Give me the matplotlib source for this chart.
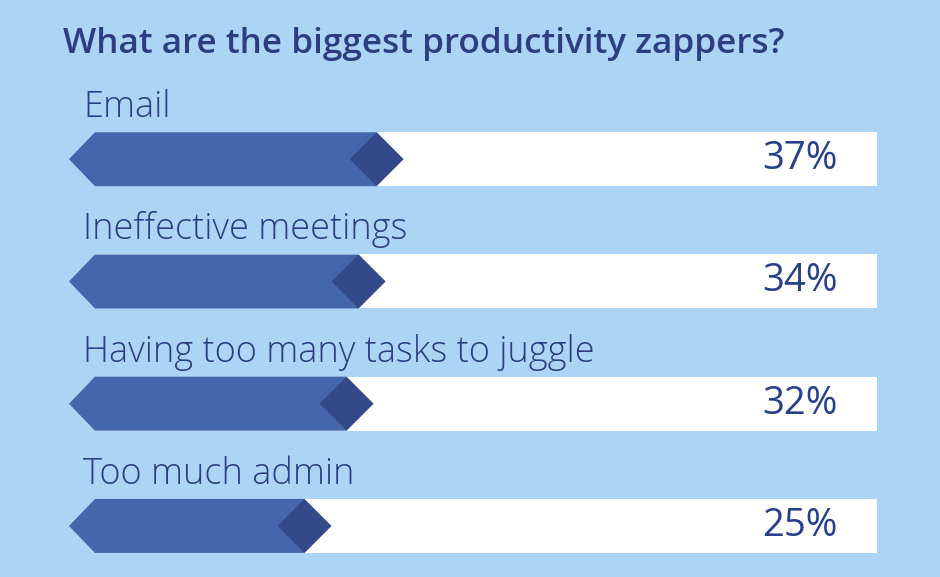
import matplotlib
matplotlib.use("Agg")
import matplotlib.pyplot as plt
from matplotlib.patches import Polygon, Rectangle

# ---- data ----
categories = ["Email", "Ineffective meetings", "Having too many tasks to juggle", "Too much admin"]
values = [37, 34, 32, 25]
value_labels = ["37%", "34%", "32%", "25%"]
title = "What are the biggest productivity zappers?"

# ---- style ----
BG = "#acd4f5"
BODY = "#4466ad"
DIAMOND = "#34498a"
TEXT = "#2c3e80"
PCT = "#27408b"
FONT = ["Open Sans", "DejaVu Sans"]

W, H = 940, 577
fig = plt.figure(figsize=(W / 100, H / 100), dpi=100)
fig.patch.set_facecolor(BG)
ax = fig.add_axes([0, 0, 1, 1])
ax.set_facecolor(BG)
ax.axis("off")

# scales: px = 154.3 + 6.01 * value ; py = 159.2 + 122.25 * index
sx, ox = 6.01, 154.3
sy, oy = 122.25, 159.2
ax.set_xlim((0 - ox) / sx, (W - ox) / sx)
ax.set_ylim((H - oy) / sy, (0 - oy) / sy)

half_h = 27 / sy           # half bar height in row units
dx = 27 / sx               # diamond half width in value units
tip_x = (69 - ox) / sx
body_x0 = (95 - ox) / sx
white_x1 = (877 - ox) / sx

for i, (cat, v, lab) in enumerate(zip(categories, values, value_labels)):
    top, bot = i - half_h, i + half_h
    ax.add_patch(Rectangle((body_x0, top), white_x1 - body_x0, 2 * half_h,
                           facecolor="white", edgecolor="none", zorder=1))
    ax.add_patch(Polygon([(tip_x, i), (body_x0, top), (v, top), (v, bot), (body_x0, bot)],
                         closed=True, facecolor=BODY, edgecolor="none", zorder=2))
    ax.add_patch(Polygon([(v - dx, i), (v, top), (v + dx, i), (v, bot)],
                         closed=True, facecolor=DIAMOND, edgecolor="none", zorder=3))
    ax.text((83 - ox) / sx, top - 15 / sy, cat, family=FONT, fontsize=26,
            fontweight="light", color=TEXT, ha="left", va="baseline")
    ax.text((838 - ox) / sx, i, lab, family=FONT, fontsize=27.5,
            color=PCT, ha="right", va="center")

fig.text(63 / W, 1 - 53 / H, title, family=FONT, fontsize=25.3, fontweight="semibold",
         color=TEXT, ha="left", va="baseline")

fig.savefig("out.png", dpi=100, facecolor=BG)
